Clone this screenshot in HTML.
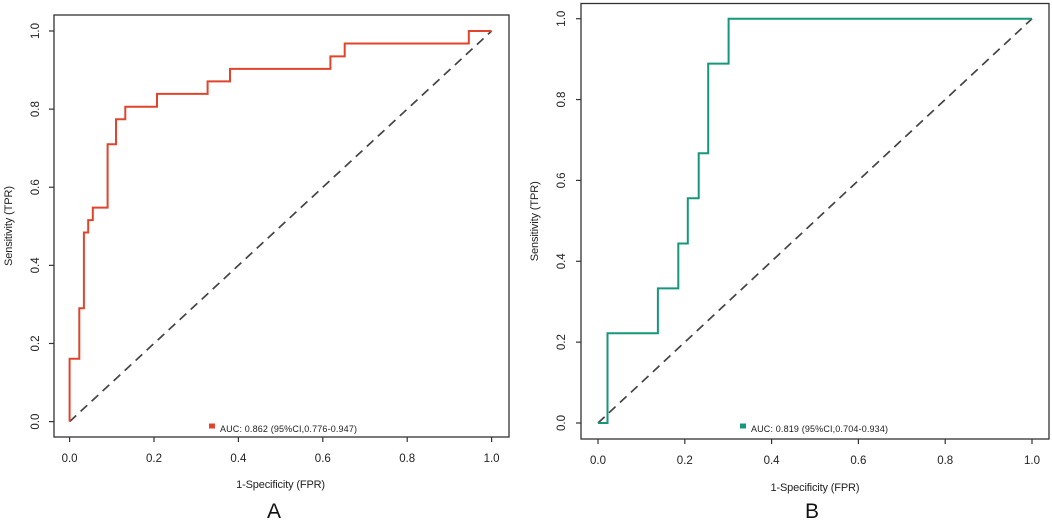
<!DOCTYPE html>
<html><head><meta charset="utf-8"><style>
html,body{margin:0;padding:0;background:#fff;}
svg{display:block;font-family:"Liberation Sans",Arial,sans-serif;}
</style></head><body>
<svg id="svg" width="1052" height="523" viewBox="0 0 1052 523"></svg>
<script>
// Panel A data
const fprA = [0,0,0.023,0.023,0.034,0.034,0.044,0.044,0.055,0.055,0.090,0.090,0.110,0.110,0.132,0.132,0.207,0.207,0.327,0.327,0.380,0.380,0.618,0.618,0.652,0.652,0.946,0.946,1];
const tprA = [0,0.161,0.161,0.290,0.290,0.484,0.484,0.516,0.516,0.548,0.548,0.710,0.710,0.774,0.774,0.806,0.806,0.839,0.839,0.871,0.871,0.903,0.903,0.935,0.935,0.968,0.968,1,1];
// Panel B data
const fprB = [0,0.022,0.022,0.138,0.138,0.185,0.185,0.207,0.207,0.232,0.232,0.254,0.254,0.301,0.301,1];
const tprB = [0,0,0.222,0.222,0.333,0.333,0.444,0.444,0.556,0.556,0.667,0.667,0.889,0.889,1,1];
const ticks = [0,0.2,0.4,0.6,0.8,1.0];
const tickLabels = ["0.0","0.2","0.4","0.6","0.8","1.0"];
const legendA = "AUC: 0.862 (95%CI,0.776-0.947)";
const legendB = "AUC: 0.819 (95%CI,0.704-0.934)";

const NS="http://www.w3.org/2000/svg";
const svg=document.getElementById('svg');
function mk(tag,attrs,parent){const e=document.createElementNS(NS,tag);for(const k in attrs)e.setAttribute(k,attrs[k]);(parent||svg).appendChild(e);return e;}

function panel(p){
  const g=mk('g',{});
  
  
  const sx=v=>p.x0+v*(p.x1-p.x0), sy=v=>p.y0+v*(p.y1-p.y0);
  const box=mk('rect',{x:p.bx0,y:p.by0,width:p.bx1-p.bx0,height:p.by1-p.by0,fill:'none',stroke:'#333','stroke-width':1.3},g);
  
  
  // x ticks
  ticks.forEach((t,i)=>{
    const x=sx(t);
    const tk=mk('line',{x1:x,x2:x,y1:p.by1,y2:p.by1+5,stroke:'#333','stroke-width':1.2},g);
    
    
    const tl=mk('text',{x:x,y:p.by1+25,'text-anchor':'middle','font-size':11.5,fill:'#222'},g);
    tl.textContent=tickLabels[i];
    
    
    const y=sy(t);
    const tk2=mk('line',{x1:p.bx0,x2:p.bx0-5,y1:y,y2:y,stroke:'#333','stroke-width':1.2},g);
    
    
    const yl=mk('text',{x:0,y:0,'text-anchor':'middle','font-size':11.5,fill:'#222',transform:`translate(${p.ytx},${y}) rotate(-90)`},g);
    yl.textContent=tickLabels[i];
    
    
  });
  const xt=mk('text',{x:(p.x0+p.x1)/2,y:p.xty,'text-anchor':'middle','font-size':11,fill:'#222',textLength:89},g);
  xt.textContent='1-Specificity (FPR)';
  
  
  const yt=mk('text',{x:0,y:0,'text-anchor':'middle','font-size':11,fill:'#222',transform:`translate(${p.yttx},${(p.by0+p.by1)/2}) rotate(-90)`,textLength:80},g);
  yt.textContent='Sensitivity (TPR)';
  
  
  const diag=mk('line',{x1:sx(0),y1:sy(0),x2:sx(1),y2:sy(1),stroke:'#444','stroke-width':1.7,'stroke-dasharray':'9,6'},g);
  
  
  const d=p.fpr.map((f,i)=>(i?'L':'M')+sx(f).toFixed(1)+','+sy(p.tpr[i]).toFixed(1)).join(' ');
  const roc=mk('path',{d:d,fill:'none',stroke:p.color,'stroke-width':2,'stroke-linejoin':'miter'},g);
  
  
  const lg=mk('g',{},g);
  
  
  mk('rect',{x:p.lx,y:423.5,width:6,height:5,fill:p.color},lg);
  const lt=mk('text',{x:p.lx+11,y:432,'font-size':9,fill:'#222',textLength:137},lg);
  lt.textContent=p.legend;
  const pl=mk('text',{x:p.plx,y:518,'text-anchor':'middle','font-size':21,fill:'#111'},g);
  pl.textContent=p.label;
  
  
}
panel({name:'panel-a',bx0:54,bx1:509,by0:15,by1:437,x0:69.6,x1:491.6,y0:421.6,y1:31,ytx:39,xty:488,yttx:12,
  fpr:fprA,tpr:tprA,color:'#e0452c',lx:209,legend:legendA,label:'A',plx:274});
panel({name:'panel-b',bx0:581,bx1:1049,by0:3.5,by1:439,x0:598,x1:1032,y0:423,y1:18.7,ytx:565,xty:491,yttx:538,
  fpr:fprB,tpr:tprB,color:'#16977c',lx:740,legend:legendB,label:'B',plx:812});
</script>
</body></html>
